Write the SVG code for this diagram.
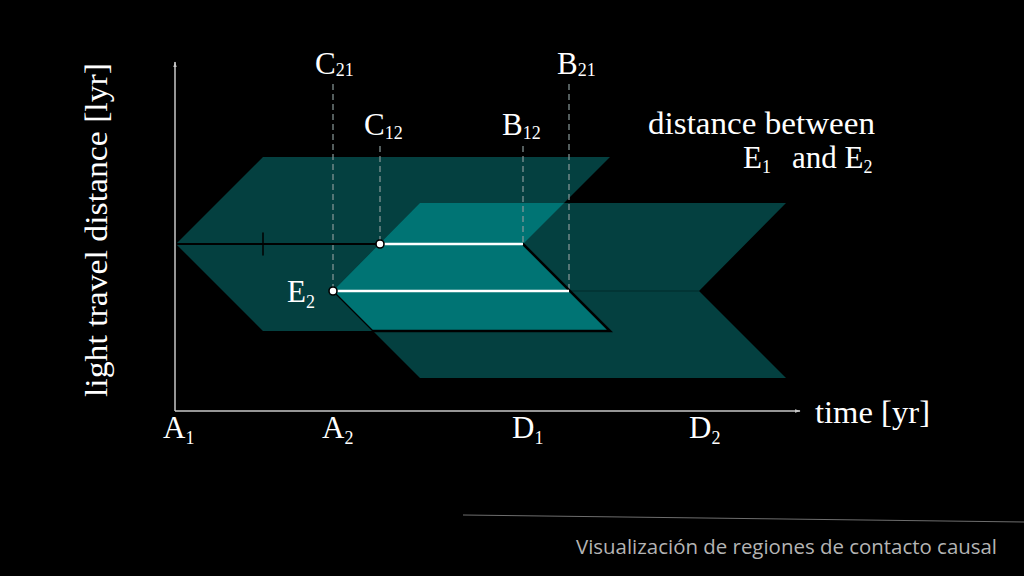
<svg xmlns="http://www.w3.org/2000/svg" width="1024" height="576" viewBox="0 0 1024 576">
  <style>
    .lbl { font-family: "Liberation Serif", "Times New Roman", serif; fill: #ffffff; font-size: 31px; }
    .sub { font-size: 18px; }
    .dark { fill: #044040; }
    .light { fill: #007474; }
    .dash { stroke: #8a9a9a; stroke-width: 1.2; stroke-dasharray: 6 4; fill: none; }
    .axis { stroke: #c8c8c8; stroke-width: 1.5; fill: none; }
    .edge { stroke: #000000; fill: none; stroke-linecap: round; }
    .seg { stroke: #ffffff; stroke-width: 2.5; fill: none; }
    .pt { fill: #ffffff; stroke: #000000; stroke-width: 1.6; }
    .foot { font-family: "Open Sans", "Lato", sans-serif; fill: #b4b4b4; font-size: 20px; }
  </style>
  <defs>
    <marker id="arr" viewBox="0 0 10 10" refX="9" refY="5" markerWidth="6" markerHeight="6" orient="auto" markerUnits="userSpaceOnUse">
      <path d="M0,2 L10,5 L0,8 z" fill="#c8c8c8"/>
    </marker>
  </defs>
  <rect width="1024" height="576" fill="#000000"/>

  <g id="region-E1">
    <polygon class="dark" points="176,244 263,157 610,157 523,244 610,331 263,331"/>
  </g>
  <g id="region-E2">
    <polygon class="dark" points="333,291 420,203 786,203 699,291 786,378 420,378"/>
  </g>
  <g id="region-overlap">
    <polygon class="light" points="333,291 420,203 564,203 523,244 610,331 373,331"/>
  </g>

  <g id="connectors">
    <line class="dash" x1="333" y1="84" x2="333" y2="291"/>
    <line class="dash" x1="380" y1="146" x2="380" y2="244"/>
    <line class="dash" x1="523" y1="146" x2="523" y2="244"/>
    <line class="dash" x1="569" y1="84" x2="569" y2="291"/>
    <line x1="569" y1="291" x2="699" y2="291" stroke="#023232" stroke-width="1.5"/>
    <line class="edge" x1="176" y1="244" x2="380" y2="244" stroke-width="2"/>
    <line class="edge" x1="263" y1="233" x2="263" y2="255" stroke-width="1.5"/>
    <polyline class="edge" points="523,244 610,331 373,331" stroke-width="2.5"/>
    <line class="edge" x1="333" y1="291" x2="373" y2="331" stroke-width="1.2"/>
    <line class="seg" x1="380" y1="244" x2="523" y2="244"/>
    <line class="seg" x1="333" y1="291" x2="569" y2="291"/>
    <line class="axis" x1="175" y1="411" x2="175" y2="62" marker-end="url(#arr)"/>
    <line class="axis" x1="175" y1="411" x2="800" y2="411" marker-end="url(#arr)"/>
  </g>

  <g id="point-C12"><circle class="pt" cx="380" cy="244" r="4"/></g>
  <g id="point-E2"><circle class="pt" cx="333" cy="291" r="4"/></g>

  <g id="labels">
    <text class="lbl" x="315" y="74">C<tspan class="sub" dy="2">21</tspan></text>
    <text class="lbl" x="557" y="74">B<tspan class="sub" dy="2">21</tspan></text>
    <text class="lbl" x="364" y="135">C<tspan class="sub" dy="4">12</tspan></text>
    <text class="lbl" x="502" y="135">B<tspan class="sub" dy="4">12</tspan></text>
    <text class="lbl" x="648" y="134" font-size="25" textLength="227" lengthAdjust="spacingAndGlyphs">distance between</text>
    <text class="lbl" x="743" y="168" font-size="26">E<tspan class="sub" dy="5">1</tspan><tspan x="792" y="168">and E</tspan><tspan class="sub" dy="5">2</tspan></text>
    <text class="lbl" x="287" y="302">E<tspan class="sub" dy="6">2</tspan></text>
    <text class="lbl" x="163" y="438">A<tspan class="sub" dy="6">1</tspan></text>
    <text class="lbl" x="322" y="438">A<tspan class="sub" dy="6">2</tspan></text>
    <text class="lbl" x="512" y="438">D<tspan class="sub" dy="6">1</tspan></text>
    <text class="lbl" x="689" y="438">D<tspan class="sub" dy="6">2</tspan></text>
    <text class="lbl" x="815" y="423" textLength="115" lengthAdjust="spacingAndGlyphs">time [yr]</text>
    <text class="lbl" transform="translate(107,397) rotate(-90)" x="0" y="0" textLength="334" lengthAdjust="spacingAndGlyphs">light travel distance [lyr]</text>
  </g>

  <g id="footer">
    <line x1="463" y1="515" x2="1024" y2="522" stroke="#6e6e6e" stroke-width="1"/>
    <text class="foot" x="576" y="554" textLength="421" lengthAdjust="spacingAndGlyphs">Visualización de regiones de contacto causal</text>
  </g>
</svg>
